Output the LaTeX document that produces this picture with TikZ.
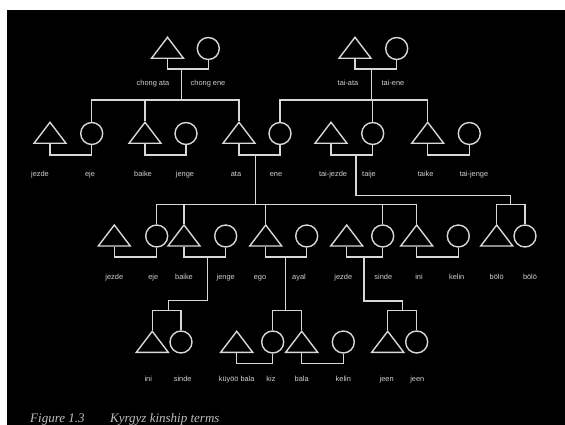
\documentclass[tikz,border=0pt]{standalone}
\usepackage{fontspec}
\setmainfont{Liberation Serif}
\setsansfont{Liberation Sans}
\usetikzlibrary{shapes.geometric}
\definecolor{ln}{RGB}{215,215,215}
\definecolor{lb}{RGB}{210,210,210}
\definecolor{capc}{RGB}{190,190,190}
\begin{document}
\begin{tikzpicture}[x=1pt,y=-1pt,
  male/.style={draw=ln, line width=1.4pt, isosceles triangle, isosceles triangle apex angle=75,
    isosceles triangle stretches, shape border rotate=90, minimum width=32pt, minimum height=21pt,
    inner sep=0pt, anchor=lower side},
  female/.style={draw=ln, line width=1.4pt, circle, minimum size=22pt, inner sep=0pt},
  lbl/.style={text=lb, font=\sffamily\fontsize{7.4}{8}\selectfont, inner sep=0pt, anchor=base},
  link/.style={draw=ln, line width=1.4pt},
  capt/.style={text=capc, font=\itshape\fontsize{13}{15}\selectfont, inner sep=0pt, anchor=base west}]
\useasboundingbox (0,0) rectangle (565,425);
\fill[white] (0,0) rectangle (565,425);
\fill[black] (7,10) rectangle (565,425);

% generation 1
\node[male] (chongata) at (167.5,59) {};
\node[female] (chongene) at (208.3,48.5) {};
\node[male] (taiata) at (355,59) {};
\node[female] (taiene) at (396.7,48.5) {};
\draw[link] (chongata.lower side) -- ++(0,10) -| (chongene.south);
\draw[link] (taiata.lower side) -- ++(0,10) -| (taiene.south);
\coordinate (cd) at (181.7,69); \coordinate (cs) at (181.7,100);
\coordinate (td) at (371.7,69); \coordinate (ts) at (371.7,100);
\draw[link] (cd) -- (cs);
\draw[link] (td) -- (ts);
\node[lbl] (l1) at (153,85.5) {chong ata};
\node[lbl] (l2) at (208,85.5) {chong ene};
\node[lbl] (l3) at (348,85.5) {tai-ata};
\node[lbl] (l4) at (393,85.5) {tai-ene};

% generation 2
\node[male] (jezdeA) at (50,144) {};
\node[female] (ejeA) at (91.7,133.5) {};
\node[male] (baikeA) at (145,144) {};
\node[female] (jengeA) at (186,133.5) {};
\node[male] (ata) at (239,144) {};
\node[female] (ene) at (280,133.5) {};
\node[male] (taijezde) at (331,144) {};
\node[female] (taije) at (372.7,133.5) {};
\node[male] (taike) at (427.7,144) {};
\node[female] (taijenge) at (469.3,133.5) {};
\draw[link] (ejeA.north) |- (ata.apex |- cs) -- (ata.apex);
\draw[link] (baikeA.apex) -- (baikeA.apex |- cs);
\draw[link] (ene.north) |- (taike.apex |- ts) -- (taike.apex);
\draw[link] (taije.north) -- (taije.north |- ts);
\draw[link] (jezdeA.lower side) -- ++(0,11) -| (ejeA.south);
\draw[link] (baikeA.lower side) -- ++(0,11) -| (jengeA.south);
\draw[link] (ata.lower side) -- ++(0,11) -| (ene.south);
\draw[link] (taijezde.lower side) -- ++(0,11) -| (taije.south);
\draw[link] (taike.lower side) -- ++(0,11) -| (taijenge.south);
\coordinate (ad) at (255.7,155); \coordinate (as) at (255.7,204.5);
\draw[link] (ad) -- (as);
\coordinate (tjd) at (356,155); \coordinate (bs) at (510.7,204.5);
\draw[link] (tjd) |- (510.7,195.5) -- (bs);
\node[lbl] at (40,176.5) {jezde};
\node[lbl] at (90,176.5) {eje};
\node[lbl] at (143,176.5) {baike};
\node[lbl] at (185,176.5) {jenge};
\node[lbl] at (236,176.5) {ata};
\node[lbl] at (276,176.5) {ene};
\node[lbl] at (333,176.5) {tai-jezde};
\node[lbl] at (369,176.5) {taije};
\node[lbl] at (425.7,176.5) {taike};
\node[lbl] at (474,176.5) {tai-jenge};

% generation 3
\node[male] (jezdeB) at (114.3,246.7) {};
\node[female] (ejeB) at (156.7,236) {};
\node[male] (baikeB) at (184,246.7) {};
\node[female] (jengeB) at (225.7,236) {};
\node[male] (ego) at (265.7,246.7) {};
\node[female] (ayal) at (306.7,236) {};
\node[male] (jezdeC) at (346.7,246.7) {};
\node[female] (sindeB) at (382.7,236) {};
\node[male] (iniB) at (416.7,246.7) {};
\node[female] (kelinB) at (458.3,236) {};
\node[male] (boloA) at (496.7,246.7) {};
\node[female] (boloB) at (525,236) {};
\draw[link] (ejeB.north) |- (iniB.apex |- as) -- (iniB.apex);
\draw[link] (baikeB.apex) -- (baikeB.apex |- as);
\draw[link] (ego.apex) -- (ego.apex |- as);
\draw[link] (sindeB.north) -- (sindeB.north |- as);
\draw[link] (boloA.apex) |- (boloB.north |- bs) -- (boloB.north);
\draw[link] (jezdeB.lower side) -- ++(0,10.3) -| (ejeB.south);
\draw[link] (baikeB.lower side) -- ++(0,10.3) -| (jengeB.south);
\draw[link] (ego.lower side) -- ++(0,10.3) -| (ayal.south);
\draw[link] (jezdeC.lower side) -- ++(0,10.3) -| (sindeB.south);
\draw[link] (iniB.lower side) -- ++(0,10.3) -| (kelinB.south);
\coordinate (g1) at (168.3,310.5);
\coordinate (g2) at (285.5,310.5);
\coordinate (g3) at (402.7,310.5);
\draw[link] (207.7,257) -- (207.7,300.5) -| (g1);
\draw[link] (285.5,257) -- (g2);
\draw[link] (364,257) -- (364,301) -| (g3);
\node[lbl] at (114.3,279.5) {jezde};
\node[lbl] at (153.3,279.5) {eje};
\node[lbl] at (184,279.5) {baike};
\node[lbl] at (225.7,279.5) {jenge};
\node[lbl] at (260,279.5) {ego};
\node[lbl] at (299,279.5) {ayal};
\node[lbl] at (343.3,279.5) {jezde};
\node[lbl] at (383.3,279.5) {sinde};
\node[lbl] at (419,279.5) {ini};
\node[lbl] at (456.7,279.5) {kelin};
\node[lbl] at (496.7,279.5) {bölö};
\node[lbl] at (530,279.5) {bölö};

% generation 4
\node[male] (iniC) at (152.3,353) {};
\node[female] (sindeC) at (181,342) {};
\node[male] (kuyoo) at (236.7,353) {};
\node[female] (kiz) at (272.7,342) {};
\node[male] (bala) at (301.7,353) {};
\node[female] (kelinC) at (343.3,342) {};
\node[male] (jeenA) at (387.7,353) {};
\node[female] (jeenB) at (416.7,342) {};
\draw[link] (iniC.apex) |- (sindeC.north |- g1) -- (sindeC.north);
\draw[link] (kiz.north) |- (bala.apex |- g2) -- (bala.apex);
\draw[link] (jeenA.apex) |- (jeenB.north |- g3) -- (jeenB.north);
\draw[link] (kuyoo.lower side) -- ++(0,10.3) -| (kiz.south);
\draw[link] (bala.lower side) -- ++(0,10.3) -| (kelinC.south);
\node[lbl] at (148.3,381.5) {ini};
\node[lbl] at (182.7,381.5) {sinde};
\node[lbl] at (236.7,381.5) {küyöö bala};
\node[lbl] at (271,381.5) {kiz};
\node[lbl] at (301.7,381.5) {bala};
\node[lbl] at (343.3,381.5) {kelin};
\node[lbl] at (386.7,381.5) {jeen};
\node[lbl] at (417.3,381.5) {jeen};

% caption
\node[capt] (c1) at (30,422) {Figure 1.3};
\node[capt] (c2) at (110,422) {Kyrgyz kinship terms};
\end{tikzpicture}
\end{document}
